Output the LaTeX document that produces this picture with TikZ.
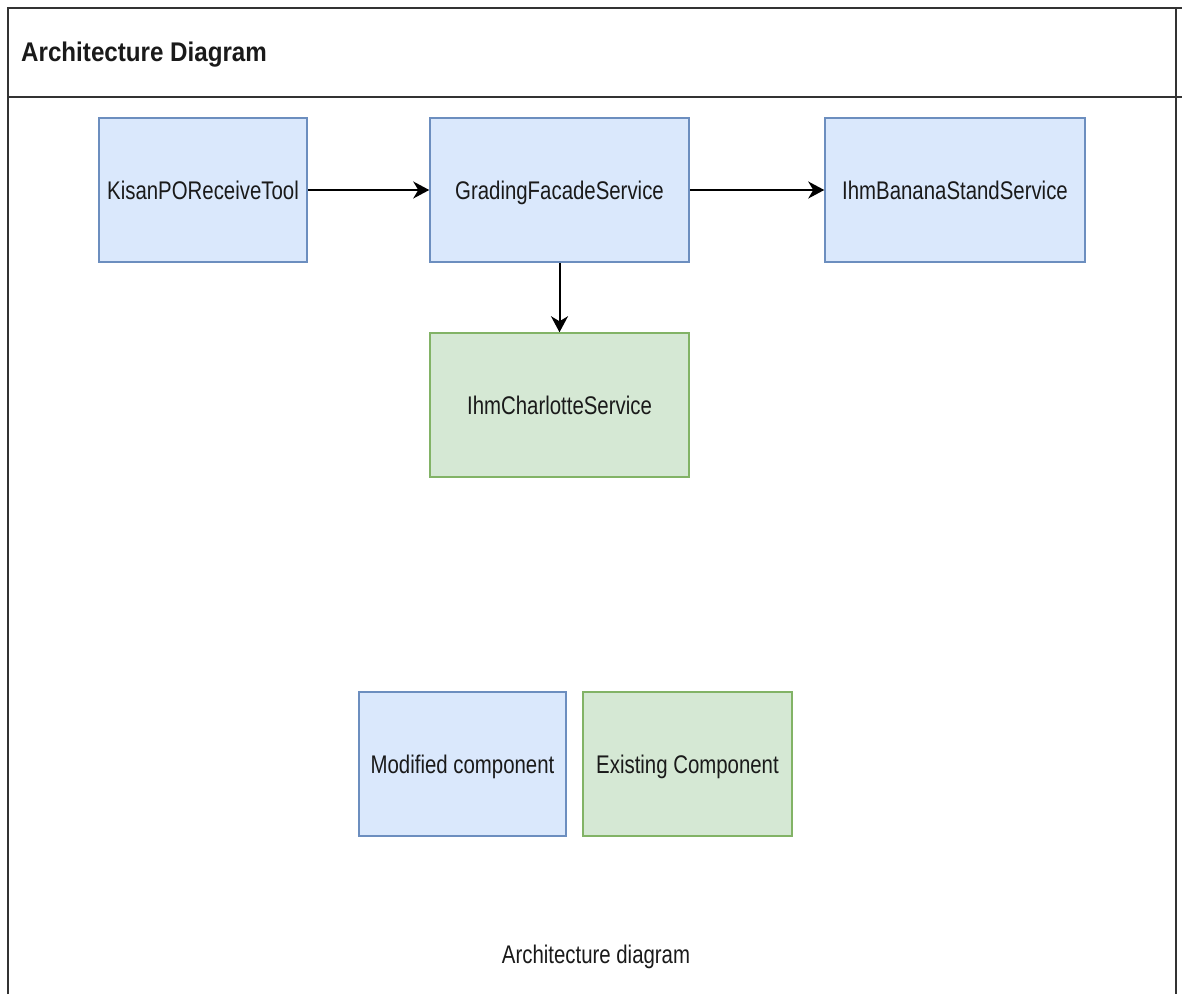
\documentclass[tikz,border=0pt]{standalone}
\usepackage{fontspec}
\usepackage{graphicx}
\setmainfont{Liberation Sans}
\usetikzlibrary{arrows.meta}

\definecolor{modfill}{HTML}{DAE8FC}
\definecolor{moddraw}{HTML}{6C8EBF}
\definecolor{exfill}{HTML}{D5E8D4}
\definecolor{exdraw}{HTML}{82B366}
\definecolor{frame}{HTML}{333333}
\definecolor{ink}{HTML}{1A1A1A}

% narrow running text, as set in the diagram
\newcommand{\narrowtxt}[1]{\scalebox{0.8}[1]{#1}}

\tikzset{
  comp/.style={rectangle, line width=1.5pt, minimum width=208pt, minimum height=144pt,
    inner sep=0pt, text height=20pt, text depth=2pt, text=ink,
    font=\fontsize{25.5}{30}\selectfont},
  modified/.style={comp, fill=modfill, draw=moddraw},
  existing/.style={comp, fill=exfill, draw=exdraw},
  link/.style={line width=2pt, draw=black, -{Stealth[length=16pt,width=17pt,inset=5pt]}},
  frameline/.style={line width=2pt, draw=frame},
}

\begin{document}
\begin{tikzpicture}[x=1pt, y=-1pt]
  \useasboundingbox (0,0) rectangle (1182,994);
  \fill[white] (0,0) rectangle (1182,994);

  % panel frame with header row
  \draw[frameline] (8,994) -- (8,8) -- (1182,8);
  \draw[frameline] (8,97) -- (1182,97);
  \draw[frameline] (1176,8) -- (1176,994);
  \node[anchor=west, text=ink, font=\fontsize{27}{32}\selectfont\bfseries, inner sep=0pt]
    (title) at (21,55) {\scalebox{0.895}[1]{Architecture Diagram}};

  % components
  \node[modified] (kisan) at (203,190) {\narrowtxt{KisanPOReceiveTool}};
  \node[modified, minimum width=259pt] (grading) at (559.5,190) {\narrowtxt{GradingFacadeService}};
  \node[modified, minimum width=260pt] (banana) at (955,190) {\narrowtxt{IhmBananaStandService}};
  \node[existing, minimum width=259pt] (charlotte) at (559.5,405) {\narrowtxt{IhmCharlotteService}};

  % calls between components
  \draw[link] (kisan.east) -- (grading.west);
  \draw[link] (grading.east) -- (banana.west);
  \draw[link] (grading.south) -- (charlotte.north);

  % legend
  \node[modified, minimum width=207pt] (legmod) at (462.5,764) {\narrowtxt{Modified component}};
  \node[existing, minimum width=209pt] (legex) at (687.5,764) {\narrowtxt{Existing Component}};

  % caption
  \node[text=ink, font=\fontsize{25.5}{30}\selectfont, inner sep=0pt]
    (caption) at (596,957) {\narrowtxt{Architecture diagram}};
\end{tikzpicture}
\end{document}
